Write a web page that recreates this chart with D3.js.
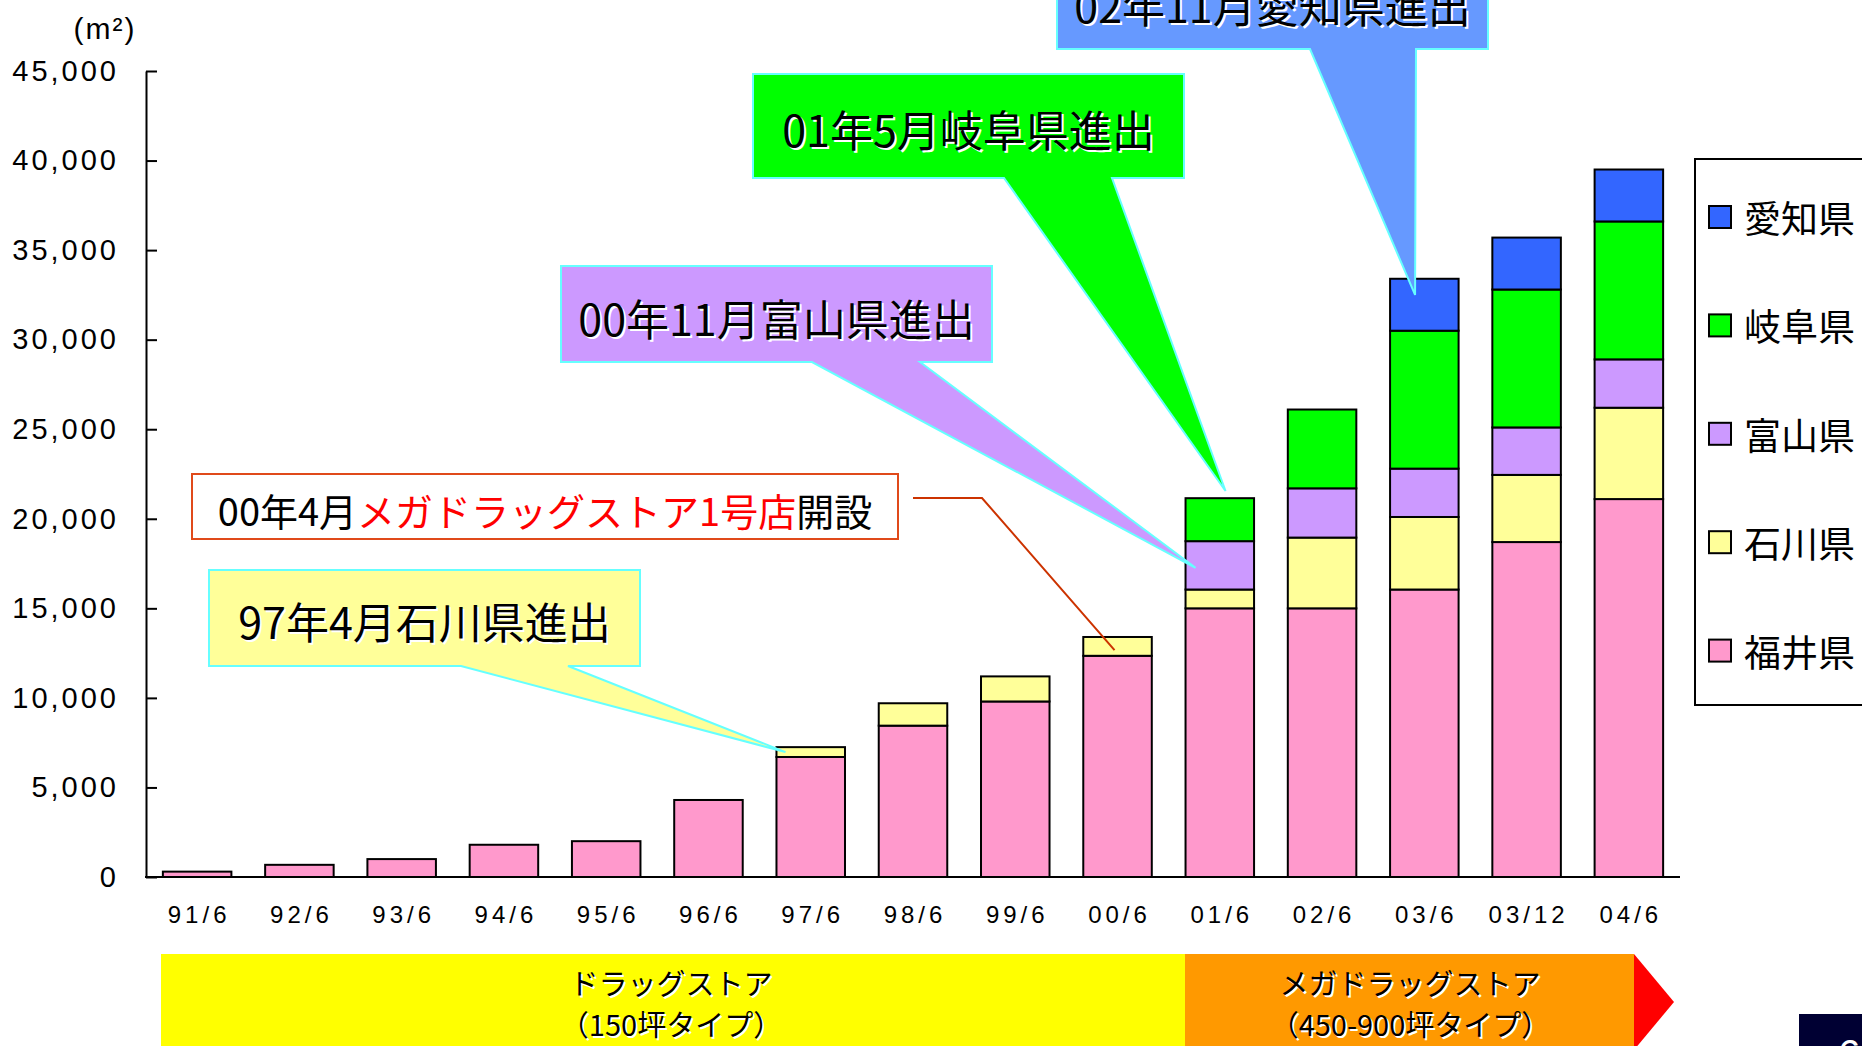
<html>
<head>
    <meta charset="utf-8">
    <script src="https://d3js.org/d3.v7.min.js"></script>
    <style>
        body { margin: 0; background: #fff; }
    </style>
</head>

<body>
    <div id="cont">
    </div>

    <script>
        // categories and values (m2), bottom series first
        var categories = ["91/6", "92/6", "93/6", "94/6", "95/6", "96/6", "97/6", "98/6", "99/6", "00/6", "01/6", "02/6", "03/6", "03/12", "04/6"];
        var fukui    = [300, 680, 1000, 1800, 2000, 4300, 6700, 8450, 9800, 12350, 15000, 15000, 16050, 18700, 21100];
        var ishikawa = [0, 0, 0, 0, 0, 0, 550, 1250, 1400, 1050, 1050, 3950, 4050, 3750, 5100];
        var toyama   = [0, 0, 0, 0, 0, 0, 0, 0, 0, 0, 2700, 2750, 2700, 2650, 2700];
        var gifu     = [0, 0, 0, 0, 0, 0, 0, 0, 0, 0, 2400, 4400, 7700, 7700, 7700];
        var aichi    = [0, 0, 0, 0, 0, 0, 0, 0, 0, 0, 0, 0, 2900, 2900, 2900];

        var seriesNames  = ["福井県", "石川県", "富山県", "岐阜県", "愛知県"];
        var seriesColors = ["#FF99CC", "#FFFF99", "#CC99FF", "#00FF00", "#3366FF"];
        var yTicks = [0, 5000, 10000, 15000, 20000, 25000, 30000, 35000, 40000, 45000];

        var jp = "'Noto Sans CJK JP', sans-serif";
        var latin = "'Liberation Sans', Arial, sans-serif";

        var rows = categories.map(function (c, i) {
            return { cat: c, "福井県": fukui[i], "石川県": ishikawa[i], "富山県": toyama[i], "岐阜県": gifu[i], "愛知県": aichi[i] };
        });

        var svg = d3.select("#cont").append("svg")
            .attr("width", 1862)
            .attr("height", 1046);

        var x = d3.scaleBand().domain(categories).range([146, 1680])
            .paddingInner(0.33).paddingOuter(0.165);
        var y = d3.scaleLinear().domain([0, 45000]).range([877, 71]);
        var color = d3.scaleOrdinal().domain(seriesNames).range(seriesColors);

        var stack = d3.stack().keys(seriesNames)(rows);

        // text with the light offset shadow of the slide
        var shadowText = function (g, tx, ty, parts, size, family) {
            [["#fff", 2], [null, 0]].forEach(function (s) {
                var t = g.append("text")
                    .attr("x", tx + s[1]).attr("y", ty + s[1])
                    .attr("text-anchor", "middle")
                    .attr("dominant-baseline", "central")
                    .attr("font-family", family || jp)
                    .attr("font-size", size);
                parts.forEach(function (p) {
                    t.append("tspan").text(p[0]).attr("fill", s[0] || p[1]);
                });
            });
        };

        // bottom band
        var band = svg.append("g");
        band.append("rect").attr("x", 161).attr("y", 954).attr("width", 1024).attr("height", 100).attr("fill", "#FFFF00");
        band.append("rect").attr("x", 1185).attr("y", 954).attr("width", 449).attr("height", 100).attr("fill", "#FF9900");
        band.append("path").attr("d", "M1634,954 L1674,1002 L1634,1050 Z").attr("fill", "#FF0000");
        shadowText(band, 671, 982, [["ドラッグストア", "#000"]], 29);
        shadowText(band, 671, 1023, [["（150坪タイプ）", "#000"]], 29);
        shadowText(band, 1410, 982, [["メガドラッグストア", "#000"]], 29);
        shadowText(band, 1410, 1023, [["（450-900坪タイプ）", "#000"]], 29);

        svg.append("rect").attr("x", 1799).attr("y", 1014).attr("width", 70).attr("height", 40).attr("fill", "#000033");
        svg.append("text").attr("x", 1838).attr("y", 1068).attr("fill", "#fff")
            .attr("font-family", latin).attr("font-size", 40).text("6");

        // bars
        svg.append("g").selectAll("g").data(stack).join("g")
            .attr("fill", function (d) { return color(d.key); })
            .selectAll("rect").data(function (d) { return d.filter(function (v) { return v[1] > v[0]; }); })
            .join("rect")
            .attr("x", function (d) { return x(d.data.cat); })
            .attr("y", function (d) { return y(d[1]); })
            .attr("width", x.bandwidth())
            .attr("height", function (d) { return y(d[0]) - y(d[1]); })
            .attr("stroke", "#000")
            .attr("stroke-width", 2);

        // axes
        var yAxis = svg.append("g").attr("transform", "translate(146,0)")
            .call(d3.axisLeft(y).tickValues(yTicks).tickFormat(d3.format(","))
                .tickSizeInner(-11).tickSizeOuter(0).tickPadding(27));
        yAxis.selectAll("text").attr("font-family", latin).attr("font-size", 29)
            .attr("letter-spacing", 3).attr("fill", "#000");
        yAxis.selectAll("line, path").attr("stroke", "#000").attr("stroke-width", 2);

        var xAxis = svg.append("g").attr("transform", "translate(0,877)")
            .call(d3.axisBottom(x).tickSize(0).tickPadding(29));
        xAxis.select(".domain").attr("d", "M145,0H1680").attr("stroke", "#000").attr("stroke-width", 2);
        xAxis.selectAll("text").attr("font-family", latin).attr("font-size", 24)
            .attr("letter-spacing", 4).attr("fill", "#000").attr("dx", 2);

        svg.append("text").attr("x", 105).attr("y", 39).attr("text-anchor", "middle")
            .attr("font-family", latin).attr("font-size", 30).attr("letter-spacing", 2).text("(m²)");

        // legend
        var legend = svg.append("g");
        legend.append("rect").attr("x", 1695).attr("y", 159).attr("width", 200).attr("height", 546)
            .attr("fill", "#fff").attr("stroke", "#000").attr("stroke-width", 2);
        var items = legend.selectAll("g").data(seriesNames.slice().reverse()).join("g")
            .attr("transform", function (d, i) { return "translate(1709," + (217 + i * 108.4) + ")"; });
        items.append("rect").attr("x", 0).attr("y", -11).attr("width", 22).attr("height", 22)
            .attr("fill", function (d) { return color(d); }).attr("stroke", "#000").attr("stroke-width", 2);
        items.append("text").attr("x", 35).attr("y", 0).attr("dominant-baseline", "central")
            .attr("font-family", jp).attr("font-size", 37).text(function (d) { return d; });

        // callouts: box, pointer base on its bottom edge, tip on a bar
        var mid = function (i, k) { return d3.sum(stack.slice(0, k), function (s) { return s[i][1] - s[i][0]; }); };
        var callout = function (box, base, tip, fill, parts, ty) {
            var g = svg.append("g");
            g.append("path")
                .attr("d", "M" + box[0] + "," + box[1] + "H" + box[2] + "V" + box[3] + "H" + base[1] +
                    "L" + tip[0] + "," + tip[1] + "L" + base[0] + "," + box[3] + "H" + box[0] + "Z")
                .attr("fill", fill).attr("stroke", "#66FFFF").attr("stroke-width", 2);
            shadowText(g, (box[0] + box[2]) / 2, ty, parts, 43);
        };

        callout([209, 570, 640, 666], [461, 568],
            [x("97/6") + 9, y(fukui[6] + ishikawa[6] / 2)], "#FFFF99", [["97年4月石川県進出", "#000"]], 620);
        callout([561, 266, 992, 362], [812, 920],
            [x("01/6") + 10, y(mid(10, 2) + toyama[10] * 0.45)], "#CC99FF", [["00年11月富山県進出", "#000"]], 317);
        callout([753, 74, 1184, 178], [1004, 1112],
            [x("01/6") + 40, y(mid(10, 4) + 400)], "#00FF00", [["01年5月岐阜県進出", "#000"]], 128);
        callout([1057, -20, 1488, 49], [1310, 1416],
            [x("03/6") + 25, y(mid(12, 4) + 2000)], "#6699FF", [["02年11月愛知県進出", "#000"]], 4);

        // store-opening note with leader line
        var note = svg.append("g");
        note.append("rect").attr("x", 192).attr("y", 474).attr("width", 706).attr("height", 65)
            .attr("fill", "#fff").attr("stroke", "#E04A1A").attr("stroke-width", 2);
        shadowText(note, 545, 509, [["00年4月", "#000"], ["メガドラッグストア1号店", "#FF0000"], ["開設", "#000"]], 38);
        note.append("path")
            .attr("d", "M913,498H982L" + (x("00/6") + x.bandwidth() / 2 - 3) + "," + y(fukui[9] + ishikawa[9] * 0.3))
            .attr("fill", "none").attr("stroke", "#CC3300").attr("stroke-width", 2);
    </script>
</body>
</html>
